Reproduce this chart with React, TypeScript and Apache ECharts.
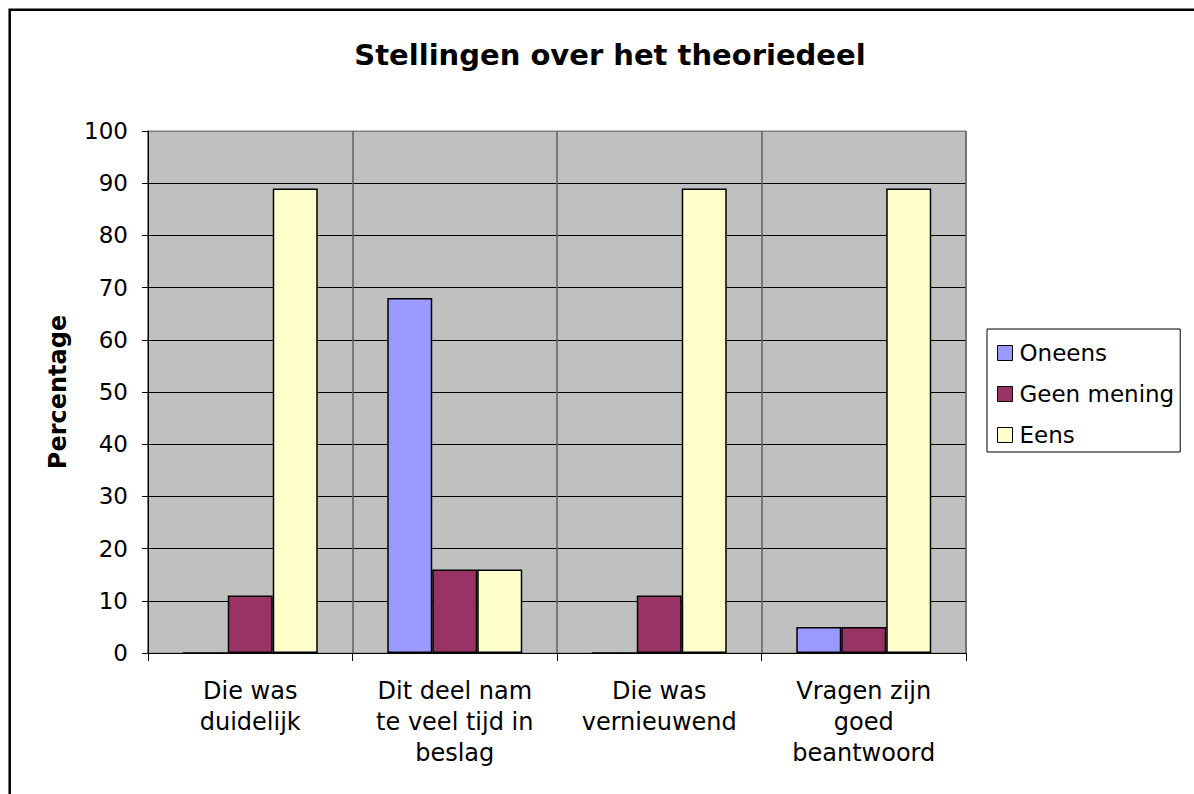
import React, { useEffect, useRef } from "react";
import * as echarts from "echarts";

const categories = [
  "Die was\nduidelijk",
  "Dit deel nam\nte veel tijd in\nbeslag",
  "Die was\nvernieuwend",
  "Vragen zijn\ngoed\nbeantwoord",
];
const seriesNames = ["Oneens", "Geen mening", "Eens"];
const oneens = [0, 68, 0, 5];
const geenMening = [11, 16, 11, 5];
const eens = [89, 16, 89, 89];
const seriesColors = ["#9999FF", "#993366", "#FFFFCC"];
const titleText = "Stellingen over het theoriedeel";
const yAxisName = "Percentage";

const FONT = "'DejaVu Sans', Verdana, sans-serif";

export default function App() {
  const ref = useRef<HTMLDivElement>(null);
  useEffect(() => {
    document.body.style.margin = "0";
    document.body.style.overflow = "hidden";
    const chart = echarts.init(ref.current!, undefined, { renderer: "svg" });
    const values = [oneens, geenMening, eens];
    const splitColors = Array.from({ length: 10 }, () => "#000000").concat(["#808080"]);
    chart.setOption({
      animation: false,
      backgroundColor: "#ffffff",
      title: {
        text: titleText,
        left: 605,
        top: 35,
        textAlign: "center",
        textStyle: { fontFamily: FONT, fontSize: 29, fontWeight: "bold", color: "#000" },
      },
      legend: {
        orient: "vertical",
        left: 987,
        top: 329,
        padding: [11, 6, 4, 10],
        itemWidth: 15,
        itemHeight: 15,
        itemGap: 15,
        itemStyle: { borderColor: "#000", borderWidth: 1 },
        icon: "rect",
        borderColor: "#000",
        borderWidth: 1,
        backgroundColor: "#fff",
        textStyle: { fontFamily: FONT, fontSize: 23, color: "#000", lineHeight: 26, padding: [0, 0, 0, 2] },
        data: seriesNames,
      },
      grid: {
        left: 148,
        top: 131,
        right: 228,
        bottom: 141,
        show: true,
        backgroundColor: "#C0C0C0",
        borderColor: "#808080",
        borderWidth: 1,
      },
      xAxis: {
        type: "category",
        data: categories,
        axisLine: { lineStyle: { color: "#000", width: 1 } },
        axisTick: { show: true, length: 8, lineStyle: { color: "#000" } },
        splitLine: { show: true, lineStyle: { color: "#606060", width: 1.5 } },
        axisLabel: {
          fontFamily: FONT,
          fontSize: 24,
          lineHeight: 31,
          color: "#000",
          margin: 22,
          align: "center",
          interval: 0,
        },
      },
      yAxis: {
        type: "value",
        min: 0,
        max: 100,
        interval: 10,
        name: yAxisName,
        nameLocation: "middle",
        nameRotate: 90,
        nameGap: 78,
        nameTextStyle: { fontFamily: FONT, fontSize: 24, fontWeight: "bold", color: "#000" },
        axisLine: { show: true, lineStyle: { color: "#000", width: 1 } },
        axisTick: { show: true, length: 6, lineStyle: { color: "#000" } },
        splitLine: { show: true, lineStyle: { color: splitColors, width: 1 } },
        axisLabel: { fontFamily: FONT, fontSize: 23, color: "#000", margin: 20 },
      },
      series: seriesNames.map((name, i) => ({
        name,
        type: "bar",
        data: values[i],
        barGap: "0%",
        barCategoryGap: "34%",
        itemStyle: { color: seriesColors[i], borderColor: "#000", borderWidth: 1.5 },
      })),
      graphic: [
        {
          type: "rect",
          shape: { x: 9.7, y: 9.7, width: 3000, height: 3000 },
          style: { fill: "none", stroke: "#000", lineWidth: 2.5 },
          silent: true,
          z: 100,
        },
      ],
    });
    return () => chart.dispose();
  }, []);
  return <div ref={ref} style={{ width: 1194, height: 794 }} />;
}
